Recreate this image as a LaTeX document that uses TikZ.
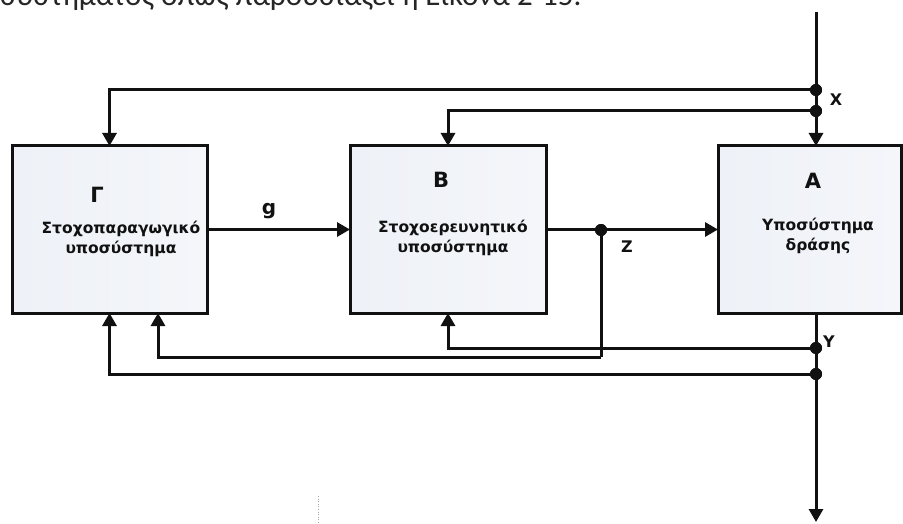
\documentclass[tikz,border=0pt]{standalone}
\usepackage{fontspec}
\setmainfont{DejaVu Sans}
\newfontfamily\toptextfont{Carlito}
\usetikzlibrary{arrows.meta,calc}
\definecolor{boxfill}{HTML}{EEF1F7}
\definecolor{boxfillr}{HTML}{F4F6FA}
\definecolor{inkc}{HTML}{111111}
\tikzset{
  blockbox/.style={draw=inkc, line width=3pt, left color=boxfill, right color=boxfillr, minimum height=167pt, inner sep=0pt, outer sep=0pt},
  boxtext/.style={font=\bfseries\fontsize{15.5}{20}\selectfont, align=center, inner sep=0pt, text=inkc},
  boxletter/.style={font=\bfseries\fontsize{21}{24}\selectfont, inner sep=0pt, text=inkc},
  siglabel/.style={font=\bfseries\fontsize{16}{18}\selectfont, inner sep=0pt, text=inkc},
  wire/.style={draw=inkc, line width=3pt},
  arrowwire/.style={wire, -{Triangle[length=13pt,width=14pt]}},
  junction/.style={circle, fill=inkc, inner sep=0pt, minimum size=12pt}
}
\begin{document}
\begin{tikzpicture}[x=1pt,y=-1pt]
\useasboundingbox (0,0) rectangle (903,524);
\clip (0,0) rectangle (903,524);
% partially visible caption line at the top
\node[anchor=base west, inner sep=0pt, font=\toptextfont\fontsize{31}{33}\selectfont, text=black!85] (caption) at (0,6) {συστήματος όπως παρουσιάζει η Εικόνα 2-15.};
% blocks
\node[blockbox, minimum width=195pt] (G) at (109.5,229.5) {};
\node[blockbox, minimum width=196pt] (B) at (448,229.5) {};
\node[blockbox, minimum width=183pt] (A) at (809.5,229.5) {};
% block texts
\node[boxletter] (Gl) at (97,195) {Γ};
\node[boxletter] (Bl) at (441,180) {B};
\node[boxletter] (Al) at (813,181) {A};
\node[boxtext, anchor=base] (Gt) at (121,253) {Στοχοπαραγωγικό\\υποσύστημα};
\node[boxtext, anchor=base] (Bt) at (453,252) {Στοχοερευνητικό\\υποσύστημα};
\node[boxtext, anchor=base] (At) at (818,250) {Υποσύστημα\\δράσης};
% junction points
\coordinate (top) at (816,12);
\coordinate (bot) at (816,522);
\node[junction] (x1) at (816,90) {};
\node[junction] (x2) at (816,111) {};
\node[junction] (z) at (601,230) {};
\node[junction] (y1) at (816,348) {};
\node[junction] (y2) at (816,374) {};
\coordinate (zc) at (601,357);
\coordinate (Gin2) at (158,313);
\coordinate (Ain) at (816,146);
\coordinate (Aout) at (816,313);
% connectors
\draw[arrowwire] (top) -- (Ain);
\draw[arrowwire] (x1.center) -| (G.north);
\draw[arrowwire] (x2.center) -| (B.north);
\draw[arrowwire] (G.east) -- (B.west);
\draw[arrowwire] (B.east) -- (A.west);
\draw[wire] (z.center) -- (zc);
\draw[arrowwire] (zc) -| (Gin2);
\draw[arrowwire] (Aout) -- (bot);
\draw[arrowwire] (y1.center) -| (B.south);
\draw[arrowwire] (y2.center) -| (G.south);
\node[junction] at (x1) {};
\node[junction] at (x2) {};
\node[junction] at (z) {};
\node[junction] at (y1) {};
\node[junction] at (y2) {};
% signal labels
\node[font=\bfseries\fontsize{20}{22}\selectfont, inner sep=0pt, text=inkc] (gl) at (269,211) {g};
\node[siglabel] (xl) at (836,100) {X};
\node[siglabel] (zl) at (627,247) {Z};
\node[siglabel] (yl) at (829,342) {Y};
% faint dotted artefact line
\draw[black!35, line width=0.6pt, dotted] (318,496) -- (318,524);
\end{tikzpicture}
\end{document}
